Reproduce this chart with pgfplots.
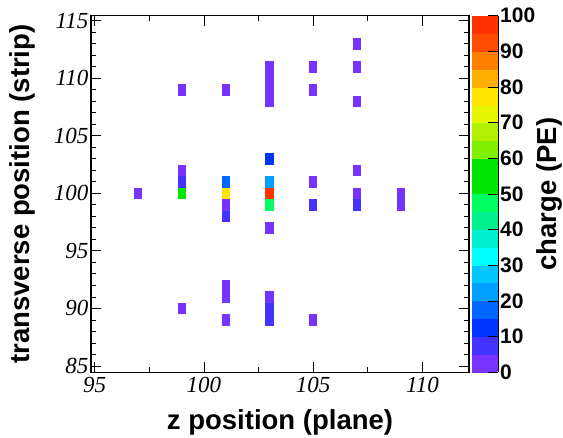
\documentclass[border=0pt]{standalone}
\usepackage{pgfplots}
\pgfplotsset{compat=1.18}
\usepackage{fontspec}
\setmainfont{Liberation Sans}
\newfontfamily\tnr{Liberation Serif}

% one detector cell: 0.37 plane wide, 1 strip tall
\pgfdeclareplotmark{cell}{%
  \pgfpathrectangle{\pgfpoint{-4.05pt}{-5.8pt}}{\pgfpoint{8.1pt}{11.6pt}}%
  \pgfusepathqfill}

\pgfplotstableread{
z   v   q
97  100 2
99  109 2
99  102 2
99  101 7
99  100 55
99  90  2
101 109 2
101 101 17
101 100 78
101 99  2
101 98  7
101 92  2
101 91  2
101 89  2
103 111 2
103 110 2
103 109 2
103 108 2
103 103 12
103 101 22
103 100 97
103 99  47
103 97  2
103 91  2
103 90  7
103 89  7
105 111 2
105 109 2
105 101 2
105 99  7
105 89  2
107 113 2
107 111 2
107 108 2
107 102 2
107 100 2
107 99  7
109 100 2
109 99  2
}\hits

\begin{document}
\begin{tikzpicture}
\useasboundingbox (0,0) rectangle (563pt,437pt);
\begin{axis}[
  at={(91pt,64.7pt)}, anchor=south west,
  scale only axis, width=378pt, height=356.6pt,
  xmin=94.83, xmax=112.13, ymin=84.45, ymax=115.45,
  xtick={95,100,105,110}, ytick={85,90,...,115},
  minor x tick num=1, minor y tick num=4,
  tick align=inside, major tick length=10pt, minor tick length=5pt,
  every tick/.style={black, line width=0.9pt},
  axis line style={line width=1.2pt},
  /pgf/number format/assume math mode=true,
  tick label style={font=\tnr\itshape\fontsize{23}{23}\selectfont, inner sep=0pt},
  xticklabel style={yshift=-4.5pt},
  yticklabel style={xshift=-2.5pt},
  label style={font=\bfseries\fontsize{27.5}{27.5}\selectfont, inner sep=0pt},
  xlabel={z position (plane)},
  ylabel={transverse position (strip)},
  xlabel style={at={(axis description cs:0.5,0)}, anchor=north, yshift=-37.5pt},
  ylabel style={at={(axis description cs:0,0.5)}, anchor=center, yshift=69pt},
  % 20 bands of 5 PE each
  colormap={rootpal}{rgb255=(119,51,255) rgb255=(68,51,255) rgb255=(0,51,255)
    rgb255=(0,102,255) rgb255=(0,160,255) rgb255=(0,200,255) rgb255=(0,255,255)
    rgb255=(0,240,208) rgb255=(0,240,144) rgb255=(0,255,96) rgb255=(0,230,0)
    rgb255=(0,230,0) rgb255=(128,240,0) rgb255=(176,240,0) rgb255=(232,245,0)
    rgb255=(255,230,0) rgb255=(255,176,0) rgb255=(255,128,0) rgb255=(255,76,0)
    rgb255=(255,51,0)},
  colormap access=piecewise constant,
  point meta min=0, point meta max=100,
  colorbar,
  colorbar shift/.style={xshift=3pt},
  colorbar style={
    at={(parent axis.north east)}, anchor=north west,
    scale only axis, width=26pt, height=356.6pt,
    axis x line=none, axis y line*=right,
    ytick={0,10,...,100}, minor y tick num=0,
    tick align=inside, major tick length=10pt,
    /pgf/number format/assume math mode=true,
    yticklabel style={font=\bfseries\fontsize{21}{21}\selectfont, inner sep=0pt, xshift=2pt},
    ylabel={charge (PE)},
    ylabel style={font=\bfseries\fontsize{27.5}{27.5}\selectfont, inner sep=0pt,
      at={(axis description cs:1,0.5)}, anchor=center, yshift=-51pt},
  },
]
\addplot[scatter, only marks, mark=cell, point meta=explicit,
  scatter/use mapped color={draw=mapped color, fill=mapped color}]
  table[x=z, y=v, meta=q] {\hits};
\end{axis}
\end{tikzpicture}
\end{document}
